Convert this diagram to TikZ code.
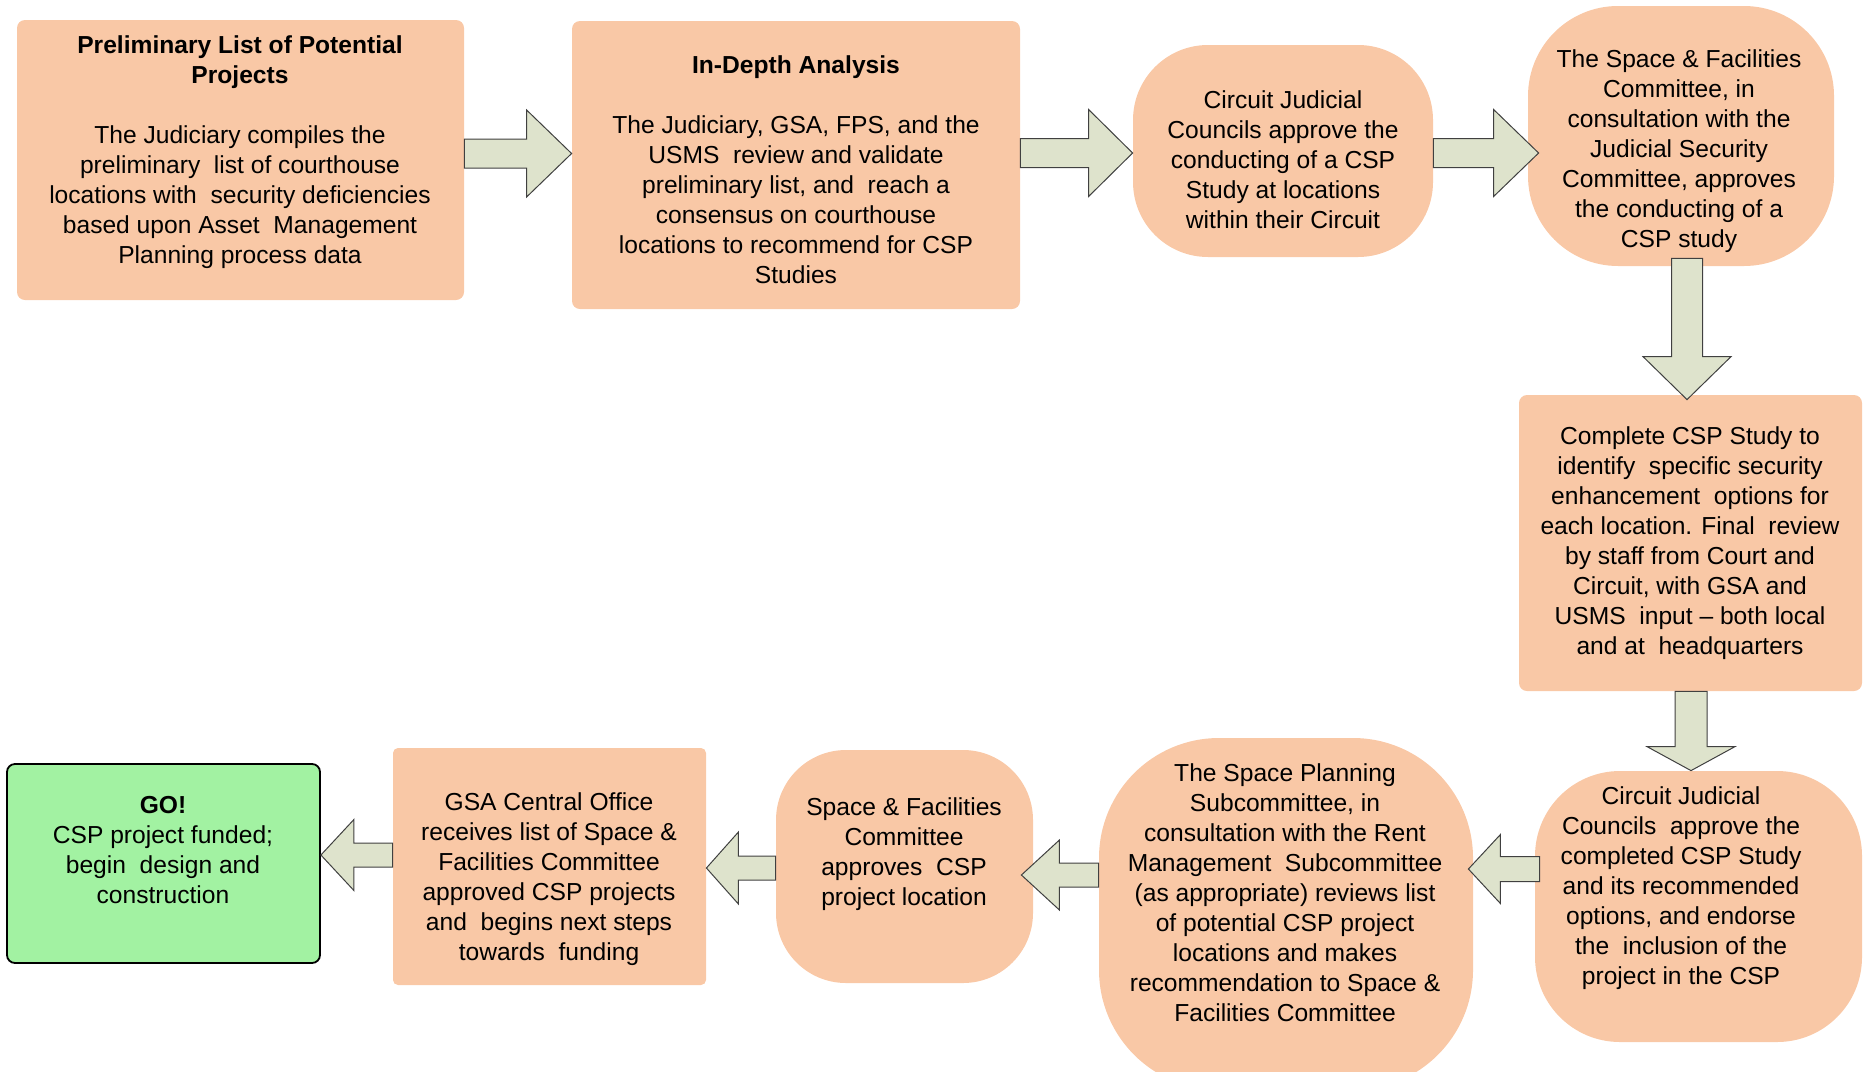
\documentclass[tikz,border=0pt]{standalone}
\usepackage{fontspec}
\setmainfont{Liberation Sans}
\usetikzlibrary{calc}
\definecolor{peach}{HTML}{F9C8A6}
\definecolor{arrowfill}{HTML}{DEE3CC}
\definecolor{arrowline}{HTML}{404040}
\definecolor{gogreen}{HTML}{A2F2A2}
\tikzset{
  box/.style={draw=none, fill=peach, inner sep=0pt},
  gobox/.style={draw=black, line width=0.9pt, fill=gogreen, inner sep=0pt, rounded corners=4pt},
  txt/.style={align=center, inner sep=0pt, font=\fontsize{12.3}{15}\selectfont},
  barrow/.style={fill=arrowfill, draw=arrowline, line width=0.5pt, line join=miter},
}
% #1 tail, #2 tip, #3 shaft half width, #4 head half width, #5 head length
\newcommand\blockarrow[5]{%
  \coordinate (tmpH) at ($(#2)!#5!(#1)$);
  \filldraw[barrow] ($(#1)!#3!90:(#2)$) -- ($(tmpH)!#3!-90:(#1)$) -- ($(tmpH)!#4!-90:(#1)$) -- (#2)
    -- ($(tmpH)!#4!90:(#1)$) -- ($(tmpH)!#3!90:(#1)$) -- ($(#1)!#3!-90:(#2)$) -- cycle;}
\begin{document}
\begin{tikzpicture}[x=0.5pt,y=-0.5pt]
\useasboundingbox (0,0) rectangle (1866,1071);
\clip (0,0) rectangle (1866,1071);

% boxes
\node[box, rounded corners=4pt, minimum width=223.5pt, minimum height=140pt] (b1) at (240.5,160) {};
\node[box, rounded corners=4pt, minimum width=224pt, minimum height=144pt] (b2) at (796,165) {};
\node[box, rounded corners=37.5pt, minimum width=150pt, minimum height=106pt] (b3) at (1283,151) {};
\node[box, rounded corners=45pt, minimum width=153pt, minimum height=130pt] (b4) at (1681,136) {};
\node[box, rounded corners=4pt, minimum width=171.5pt, minimum height=148pt] (b5) at (1690.5,543) {};
\node[box, rounded corners=42.5pt, minimum width=163.5pt, minimum height=135.5pt] (b6) at (1698.5,906.5) {};
\node[box, rounded corners=60pt, minimum width=187pt, minimum height=176pt] (b7) at (1286,914) {};
\node[box, rounded corners=35pt, minimum width=128.5pt, minimum height=116.5pt] (b8) at (904.5,866.5) {};
\node[box, rounded corners=2.5pt, minimum width=156.5pt, minimum height=118.5pt] (b9) at (549.5,866.5) {};
\node[gobox, minimum width=156.5pt, minimum height=99.5pt] (b10) at (163.5,863.5) {};

% texts
\node[txt] (t1) at (240,152.5) {\textbf{Preliminary List of Potential}\\ \textbf{Projects}\\[15pt]
  The Judiciary compiles the\\ preliminary~ list of courthouse\\ locations with~ security deficiencies\\
  based upon Asset~ Management\\ Planning process data};
\node[txt] (t2) at (796,169.5) {\textbf{In-Depth Analysis}\\[15pt]
  The Judiciary, GSA, FPS, and the\\ USMS~ review and validate\\ preliminary list, and~ reach a\\
  consensus on courthouse\\ locations to recommend for CSP\\ Studies};
\node[txt] (t3) at (1283,160) {Circuit Judicial\\ Councils approve the\\ conducting of a CSP\\ Study at locations\\ within their Circuit};
\node[txt] (t4) at (1679,151) {The Space \& Facilities\\ Committee, in\\ consultation with the\\ Judicial Security\\ Committee, approves\\ the conducting of a\\ CSP study};
\node[txt] (t5) at (1690,543) {Complete CSP Study to\\ identify~ specific security\\ enhancement~ options for\\ each location. Final~ review\\ by staff from Court and\\ Circuit, with GSA and\\ USMS~ input -- both local\\ and at~ headquarters};
\node[txt] (t6) at (1681,888.5) {Circuit Judicial\\ Councils~ approve the\\ completed CSP Study\\ and its recommended\\ options, and endorse\\ the~ inclusion of the\\ project in the CSP};
\node[txt] (t7) at (1285,892.5) {The Space Planning\\ Subcommittee, in\\ consultation with the Rent\\ Management~ Subcommittee\\ (as appropriate) reviews list\\ of potential CSP project\\ locations and makes\\ recommendation to Space \&\\ Facilities Committee};
\node[txt] (t8) at (904,854.5) {Space \& Facilities\\ Committee\\ approves~ CSP\\ project location};
\node[txt] (t9) at (549,879.5) {GSA Central Office\\ receives list of Space \&\\ Facilities Committee\\ approved CSP projects\\ and~ begins next steps\\ towards~ funding};
\node[txt] (t10) at (163,850.5) {\textbf{GO!}\\ CSP project funded;\\ begin~ design and\\ construction};

% arrow end points
\coordinate (a1s) at (b1.east |- 0,153.5);
\coordinate (a1e) at (b2.west |- 0,153.5);
\coordinate (a2s) at (b2.east |- 0,153);
\coordinate (a2e) at (b3.west |- 0,153);
\coordinate (a3s) at (b3.east |- 0,153);
\coordinate (a3e) at ($(b4.west |- 0,153)+(11,0)$);
\coordinate (d1s) at ($(1687,0 |- b4.south)+(0,-8)$);
\coordinate (d1e) at ($(1687,0 |- b5.north)+(0,5)$);
\coordinate (d2s) at (1691,0 |- b5.south);
\coordinate (d2e) at (1691,0 |- b6.north);
\coordinate (l1s) at ($(b6.west |- 0,869)+(5,0)$);
\coordinate (l1e) at ($(b7.east |- 0,869)+(-5,0)$);
\coordinate (l2s) at (b7.west |- 0,875);
\coordinate (l2e) at ($(b8.east |- 0,875)+(-12,0)$);
\coordinate (l3s) at (b8.west |- 0,868);
\coordinate (l3e) at (b9.east |- 0,868);
\coordinate (l4s) at (b9.west |- 0,855);
\coordinate (l4e) at (b10.east |- 0,855);

% block arrows
\blockarrow{a1s}{a1e}{7.25pt}{21.75pt}{22.5pt}
\blockarrow{a2s}{a2e}{7.25pt}{21.75pt}{22pt}
\blockarrow{a3s}{a3e}{7.25pt}{21.75pt}{22.5pt}
\blockarrow{d1s}{d1e}{7.75pt}{22pt}{21.5pt}
\blockarrow{d2s}{d2e}{8pt}{22pt}{12pt}
\blockarrow{l1s}{l1e}{6.25pt}{17.25pt}{16pt}
\blockarrow{l2s}{l2e}{6pt}{17.5pt}{19pt}
\blockarrow{l3s}{l3e}{6pt}{18pt}{16pt}
\blockarrow{l4s}{l4e}{6pt}{17.75pt}{16.5pt}
\end{tikzpicture}
\end{document}
